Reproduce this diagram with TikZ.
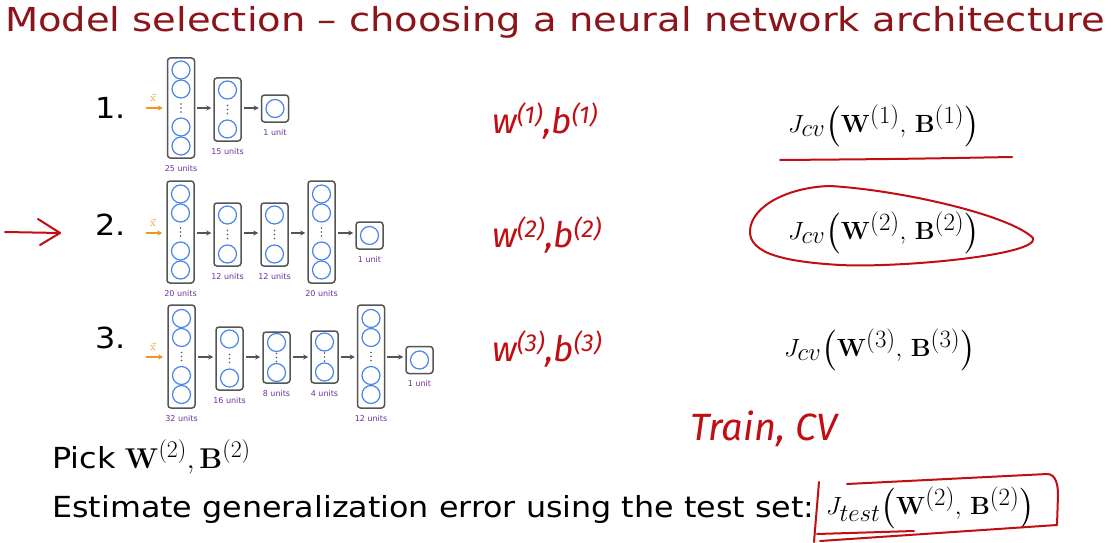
\documentclass[tikz,border=0pt]{standalone}
\usepackage{amsmath,amssymb}
\usepackage[no-math]{fontspec}
\setmainfont{DejaVu Sans}
\newfontfamily\handfont{Fira Sans}
\usetikzlibrary{arrows.meta, positioning}

\definecolor{titlered}{RGB}{139,21,27}
\definecolor{handred}{RGB}{192,14,18}
\definecolor{unitblue}{RGB}{74,134,232}
\definecolor{boxgray}{RGB}{85,85,85}
\definecolor{unitpurple}{RGB}{112,48,160}
\definecolor{inorange}{RGB}{240,150,30}

% layer with dots: name, x, y, height, circle offsets
\newcommand{\netlayer}[5]{%
  \node[layerbox=#4] (#1) at (#2,#3) {};
  \foreach \dy in {#5} \node[unit] at ([yshift=\dy pt]#1.center) {};
  \foreach \dd in {-4,0,4} \fill[boxgray] ([yshift=\dd pt]#1.center) circle (0.9);
}
% output layer: name, x, y
\newcommand{\outlayer}[3]{%
  \node[layerbox=27] (#1) at (#2,#3) {};
  \node[unit] at (#1.center) {};
}
\newcommand{\wide}[1]{\scalebox{1.1}[1]{#1}}

\begin{document}
\begin{tikzpicture}[x=1pt, y=-1pt,
  layerbox/.style={draw=boxgray, line width=1.5pt, rounded corners=3pt, minimum width=27pt, minimum height=#1, inner sep=0pt},
  unit/.style={circle, draw=unitblue, line width=1.2pt, minimum size=18pt, inner sep=0pt},
  flow/.style={-{Stealth[length=5pt,width=5pt]}, boxgray, line width=1.2pt, shorten <=2pt, shorten >=2pt},
  inflow/.style={-{Stealth[length=5pt,width=5pt]}, inorange, line width=1.4pt, shorten >=4pt},
  units/.style={text=unitpurple, font=\fontsize{8}{9}\selectfont, inner sep=0pt, below=6pt of #1},
  xin/.style={text=inorange, font=\fontsize{11}{12}\selectfont, inner sep=0pt},
  body/.style={anchor=base west, inner sep=0pt, font=\fontsize{29}{34}\selectfont},
  hand/.style={anchor=base west, inner sep=0pt, text=handred, font=\handfont\itshape\fontsize{35}{38}\selectfont},
  cost/.style={anchor=west, inner sep=0pt, font=\fontsize{34}{40}\selectfont},
  redmark/.style={handred, line width=2pt, line cap=round, line join=round}]

  \fill[white] (0,0) rectangle (1111,543);
  \useasboundingbox (0,0) rectangle (1111,543);

  % Titel
  \node[anchor=base west, inner sep=0pt, text=titlered, font=\fontsize{33}{38}\selectfont] (title) at (5,32)
    {\scalebox{1.165}[1]{Model selection – choosing a neural network architecture}};

  % Modell 1
  \node[body] (n1) at (95,118) {\wide{1.}};
  \coordinate (x1) at (146,108);
  \netlayer{a1}{181}{108}{100}{-38,-19,19,38}
  \netlayer{a2}{227.5}{109.5}{63}{-19.5,19.5}
  \outlayer{a3}{275}{108.5}
  \draw[inflow] (x1) -- (x1 -| a1.west);
  \node[xin] at ([shift={(7,-10)}]x1) {$\vec{\mathrm{x}}$};
  \draw[flow] (a1.east |- x1) -- (a2.west |- x1);
  \draw[flow] (a2.east |- x1) -- (a3.west |- x1);
  \node[units=a1] {25 units};
  \node[units=a2] {15 units};
  \node[units=a3] {1 unit};
  \node[hand] (p1) at (492,133) {w\textsuperscript{(1)},b\textsuperscript{(1)}};
  \node[cost] (j1) at (788,126) {$J_{cv}\bigl(\mathbf{W}^{(1)},\,\mathbf{B}^{(1)}\bigr)$};
  \coordinate (u1) at (780,160);
  \coordinate (u2) at (1012,157);
  \draw[redmark] (u1) .. controls (900,159) .. (u2);

  % Modell 2
  \node[body] (n2) at (95,235) {\wide{2.}};
  \coordinate (x2) at (146,233);
  \netlayer{b1}{180.5}{232}{102}{-38,-19,19,38}
  \netlayer{b2}{227.5}{234.5}{63}{-19.5,19.5}
  \netlayer{b3}{274.5}{234.5}{63}{-19.5,19.5}
  \netlayer{b4}{321.5}{232}{102}{-38,-19,19,38}
  \outlayer{b5}{369.5}{235.5}
  \draw[inflow] (x2) -- (x2 -| b1.west);
  \node[xin] at ([shift={(7,-10)}]x2) {$\vec{\mathrm{x}}$};
  \foreach \i/\j in {b1/b2, b2/b3, b3/b4, b4/b5}
    \draw[flow] (\i.east |- x2) -- (\j.west |- x2);
  \node[units=b1] {20 units};
  \node[units=b2] {12 units};
  \node[units=b3] {12 units};
  \node[units=b4] {20 units};
  \node[units=b5] {1 unit};
  \node[hand] (p2) at (492,247) {w\textsuperscript{(2)},b\textsuperscript{(2)}};
  \node[cost] (j2) at (788,233) {$J_{cv}\bigl(\mathbf{W}^{(2)},\,\mathbf{B}^{(2)}\bigr)$};
  \draw[redmark] (750,230) .. controls (752,205) and (790,187) .. (830,186)
    .. controls (900,190) and (1010,215) .. (1033,238)
    .. controls (1040,255) and (900,268) .. (840,265)
    .. controls (790,262) and (748,255) .. (750,230);
  \coordinate (ra) at (5,232);
  \coordinate (rb) at (60,233);
  \coordinate (rc) at (38,219);
  \coordinate (rd) at (40,245);
  \draw[redmark] (ra) -- (rb);
  \draw[redmark] (rc) -- (rb) -- (rd);

  % Modell 3
  \node[body] (n3) at (95,348) {\wide{3.}};
  \coordinate (x3) at (146,357);
  \netlayer{c1}{181.5}{356.5}{103}{-38,-19,19,38}
  \netlayer{c2}{229.5}{358.5}{63}{-19.5,19.5}
  \netlayer{c3}{276.5}{357.5}{51}{-15,15}
  \netlayer{c4}{324.5}{357}{52}{-15,15}
  \netlayer{c5}{371}{356.5}{103}{-38,-19,19,38}
  \outlayer{c6}{419.5}{360}
  \draw[inflow] (x3) -- (x3 -| c1.west);
  \node[xin] at ([shift={(7,-10)}]x3) {$\vec{\mathrm{x}}$};
  \foreach \i/\j in {c1/c2, c2/c3, c3/c4, c4/c5, c5/c6}
    \draw[flow] (\i.east |- x3) -- (\j.west |- x3);
  \node[units=c1] {32 units};
  \node[units=c2] {16 units};
  \node[units=c3] {8 units};
  \node[units=c4] {4 units};
  \node[units=c5] {12 units};
  \node[units=c6] {1 unit};
  \node[hand] (p3) at (492,361) {w\textsuperscript{(3)},b\textsuperscript{(3)}};
  \node[cost] (j3) at (784,350) {$J_{cv}\bigl(\mathbf{W}^{(3)},\,\mathbf{B}^{(3)}\bigr)$};

  % Auswahl und Test
  \node[hand, font=\handfont\itshape\fontsize{38}{40}\selectfont] (tcv) at (690,440) {Train, CV};
  \node[body] (pick) at (52,468) {\wide{Pick} \scalebox{1.15}{$\mathbf{W}^{(2)},\mathbf{B}^{(2)}$}};
  \node[body] (est) at (52,517) {\scalebox{1.095}[1]{Estimate generalization error using the test set:}};
  \node[cost] (jt) at (826,508) {$J_{test}\bigl(\mathbf{W}^{(2)},\,\mathbf{B}^{(2)}\bigr)$};
  \draw[redmark] (847,484) -- (1047,474) to[out=0,in=90] (1058,495) -- (1057,525) -- (820,541);
  \draw[redmark] (819,482) -- (814,542);
  \draw[redmark] (817,534) -- (914,531);
\end{tikzpicture}
\end{document}
